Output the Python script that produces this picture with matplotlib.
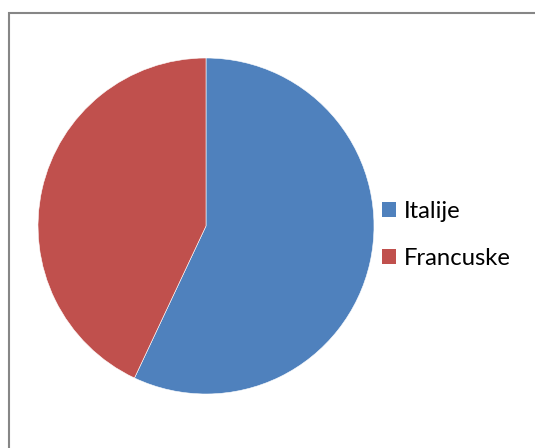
import matplotlib.pyplot as plt
from matplotlib.patches import Rectangle, Patch

# chart data
labels = ['Italije', 'Francuske']
values = [57, 43]
colors = ['#4F81BD', '#C0504D']

W, H = 535, 448
fig = plt.figure(figsize=(W / 100, H / 100), dpi=100)

# gray frame, cut off at right and bottom like the original
fig.patches.append(Rectangle((9 / W, -0.05), 1.1, 1 - 13 / H + 0.05,
                             transform=fig.transFigure, fill=False,
                             edgecolor='#868686', linewidth=1.5))

# pie area: center ~ (206, 226), radius ~168 px
cx, cy, r = 206, 226, 168
ax = fig.add_axes([(cx - r) / W, (H - cy - r) / H, 2 * r / W, 2 * r / H])
ax.pie(values, colors=colors, startangle=90, counterclock=False,
       wedgeprops=dict(edgecolor='white', linewidth=0.4), radius=1)
ax.set_xlim(-1, 1)
ax.set_ylim(-1, 1)
ax.set_aspect('equal')
ax.axis('off')

handles = [Patch(facecolor=c, edgecolor='none') for c in colors]
fig.legend(handles, labels, loc='center left',
           bbox_to_anchor=(382 / W, 1 - 235 / H), frameon=False,
           prop={'family': 'Lato', 'size': 17.2},
           handlelength=0.6, handleheight=0.6, handletextpad=0.33,
           labelspacing=1.08, borderaxespad=0, borderpad=0)

fig.savefig('out.png', dpi=100)
